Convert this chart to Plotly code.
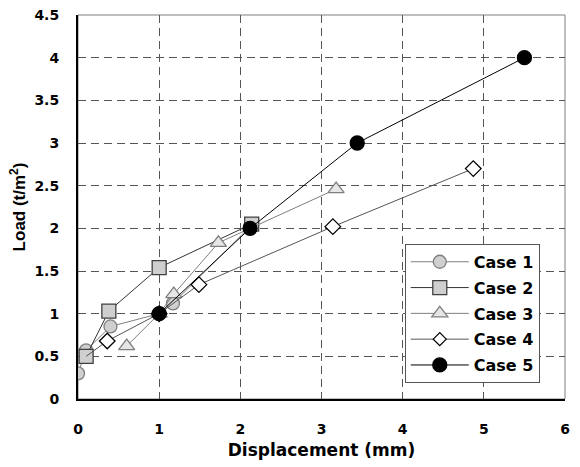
import plotly.graph_objects as go

names = ["Case 1", "Case 2", "Case 3", "Case 4", "Case 5"]
case1_x = [0.0, 0.1, 0.4, 1.0, 1.17, 2.12]
case1_y = [0.3, 0.57, 0.85, 1.0, 1.12, 2.02]
case2_x = [0.1, 0.38, 1.0, 2.14]
case2_y = [0.5, 1.03, 1.54, 2.05]
case3_x = [0.6, 1.0, 1.18, 1.73, 3.18]
case3_y = [0.62, 1.0, 1.23, 1.83, 2.46]
case4_x = [0.1, 0.36, 1.0, 1.49, 3.14, 4.87]
case4_y = [0.5, 0.68, 1.0, 1.34, 2.02, 2.70]
case5_x = [1.0, 2.12, 3.44, 5.5]
case5_y = [1.0, 2.0, 3.0, 4.0]

xs = [case1_x, case2_x, case3_x, case4_x, case5_x]
ys = [case1_y, case2_y, case3_y, case4_y, case5_y]
symbols = ["circle", "square", "triangle-up", "diamond", "circle"]
fills = ["#cfcfcf", "#cfcfcf", "#e6e6e6", "#ffffff", "#000000"]
edges = ["#7f7f7f", "#404040", "#7f7f7f", "#000000", "#000000"]
lines = ["#7f7f7f", "#333333", "#7f7f7f", "#555555", "#000000"]
sizes = [13, 14, 14, 12, 14]
# Case 4's first point lies under the Case 2 square in the reference
hidden_first = [False, False, False, True, False]

fig = go.Figure()
for i in range(5):
    msize = [sizes[i]] * len(xs[i])
    if hidden_first[i]:
        msize[0] = 0
    fig.add_trace(go.Scatter(
        x=xs[i], y=ys[i], name=names[i], mode="lines+markers",
        legendgroup=names[i],
        line=dict(color=lines[i], width=1),
        marker=dict(symbol=symbols[i], size=msize, color=fills[i], opacity=1,
                    line=dict(color=edges[i], width=1.3)),
    ))

wide = "DejaVu Sans, Liberation Sans, Arial"
fig.update_layout(
    width=580, height=467,
    margin=dict(l=78, r=15, t=15, b=68),
    paper_bgcolor="white", plot_bgcolor="white",
    font=dict(family=wide, size=14, color="black"),
    showlegend=True,
    legend=dict(
        x=0.671, y=0.404, xanchor="left", yanchor="top",
        bgcolor="white", bordercolor="#555555", borderwidth=1,
        font=dict(size=16, family=wide, color="black", weight="bold"),
        tracegroupgap=2, itemwidth=58,
    ),
)
fig.update_xaxes(
    range=[0, 6], dtick=1, tick0=0, automargin=False,
    showgrid=True, gridcolor="#555555", griddash="8px,5px", gridwidth=1,
    showline=True, linecolor="black", linewidth=1.5, mirror=False,
    zeroline=False, ticks="", ticklabelstandoff=16,
    tickfont=dict(size=14, weight="bold"),
    title=dict(text="Displacement (mm)", font=dict(size=17, weight="bold"), standoff=9),
)
fig.update_yaxes(
    range=[0, 4.5], dtick=0.5, tick0=0, automargin=False,
    showgrid=True, gridcolor="#555555", griddash="8px,5px", gridwidth=1,
    showline=True, linecolor="black", linewidth=2, mirror=False,
    zeroline=False, ticks="", ticklabelstandoff=14,
    tickfont=dict(size=14, weight="bold"),
    title=dict(text="Load (t/m<sup>2</sup>)",
               font=dict(size=17, weight="bold", family="Liberation Sans, Arial"),
               standoff=4),
)
# top/right border in grey
fig.add_shape(type="rect", xref="paper", yref="paper", x0=0, y0=0, x1=1, y1=1,
              line=dict(color="#7f7f7f", width=1), layer="below")
fig.write_html("out.html")
